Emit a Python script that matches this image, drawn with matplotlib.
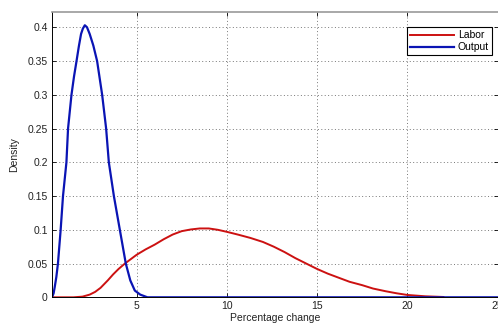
import numpy as np
import matplotlib.pyplot as plt

plt.rcParams['font.family'] = ['Liberation Sans', 'DejaVu Sans']

# Output density
output_x = [0.31, 0.4, 0.46, 0.55, 0.64, 0.79, 0.92, 1.11, 1.2, 1.39, 1.53, 1.67, 1.8, 1.92, 2.02,
            2.13, 2.25, 2.4, 2.6, 2.81, 3.09, 3.31, 3.46, 3.74, 4.07, 4.4, 4.65, 4.9, 5.2, 5.6,
            6.5, 25.0]
output_y = [0.0, 0.006, 0.015, 0.03, 0.05, 0.1, 0.15, 0.2, 0.25, 0.3, 0.327, 0.35, 0.372, 0.39, 0.398,
            0.403, 0.4, 0.39, 0.373, 0.35, 0.3, 0.25, 0.2, 0.15, 0.1, 0.05, 0.025, 0.01, 0.004, 0.0,
            0.0, 0.0]

# Labor density
labor_x = [0.31, 1.5, 2.0, 2.4, 2.7, 3.0, 3.4, 3.7, 4.0, 4.35, 4.7, 5.0, 5.5, 6.0, 6.5, 7.0,
           7.5, 8.0, 8.5, 9.0, 9.5, 10.0, 10.6, 11.3, 12.0, 12.6, 13.2, 13.8, 14.4, 15.0,
           15.6, 16.2, 16.8, 17.5, 18.1, 18.8, 19.4, 20.0, 21.0, 22.0]
labor_y = [0.0, 0.0, 0.001, 0.004, 0.008, 0.014, 0.025, 0.034, 0.042, 0.05, 0.057, 0.063, 0.071,
           0.078, 0.086, 0.093, 0.098, 0.1005, 0.102, 0.102, 0.1, 0.097, 0.093, 0.088, 0.082,
           0.075, 0.067, 0.058, 0.05, 0.042, 0.035, 0.029, 0.023, 0.018, 0.013, 0.009, 0.006,
           0.0035, 0.0015, 0.0005]

fig = plt.figure(figsize=(4.98, 3.25), dpi=100)
ax = fig.add_axes([0.1044, 0.0852, 0.8946, 0.8770])

ax.plot(labor_x, labor_y, color='#cc1111', lw=1.4, label='Labor')
ax.plot(output_x, output_y, color='#0a14b4', lw=1.6, label='Output')

ax.set_xlim(0.31, 25)
ax.set_ylim(0, 0.4222)
ax.set_xticks([5, 10, 15, 20, 25])
ax.set_yticks(np.arange(0, 0.41, 0.05))
ax.set_yticklabels(['0', '0.05', '0.1', '0.15', '0.2', '0.25', '0.3', '0.35', '0.4'])
ax.tick_params(direction='in', top=True, right=True, labelsize=7.5, length=3, width=0.6, pad=3,
               labelcolor='#222222')
ax.grid(True, linestyle=(0, (1, 2.5)), color='#777777', linewidth=0.7)

for s in ax.spines.values():
    s.set_linewidth(0.7)
ax.spines['top'].set_color('#999999')
ax.spines['top'].set_linewidth(1.2)

ax.set_xlabel('Percentage change', fontsize=7.5, labelpad=1, color='#222222')
ax.set_ylabel('Density', fontsize=7.5, labelpad=6, color='#222222')

leg = ax.legend(loc='upper right', bbox_to_anchor=(0.988, 0.948), fontsize=7.5, fancybox=False,
                edgecolor='black', framealpha=1, handlelength=4.2, handletextpad=0.4,
                borderpad=0.3, labelspacing=0.2, borderaxespad=0)
leg.get_frame().set_linewidth(0.8)

fig.savefig('out.png', dpi=100)
